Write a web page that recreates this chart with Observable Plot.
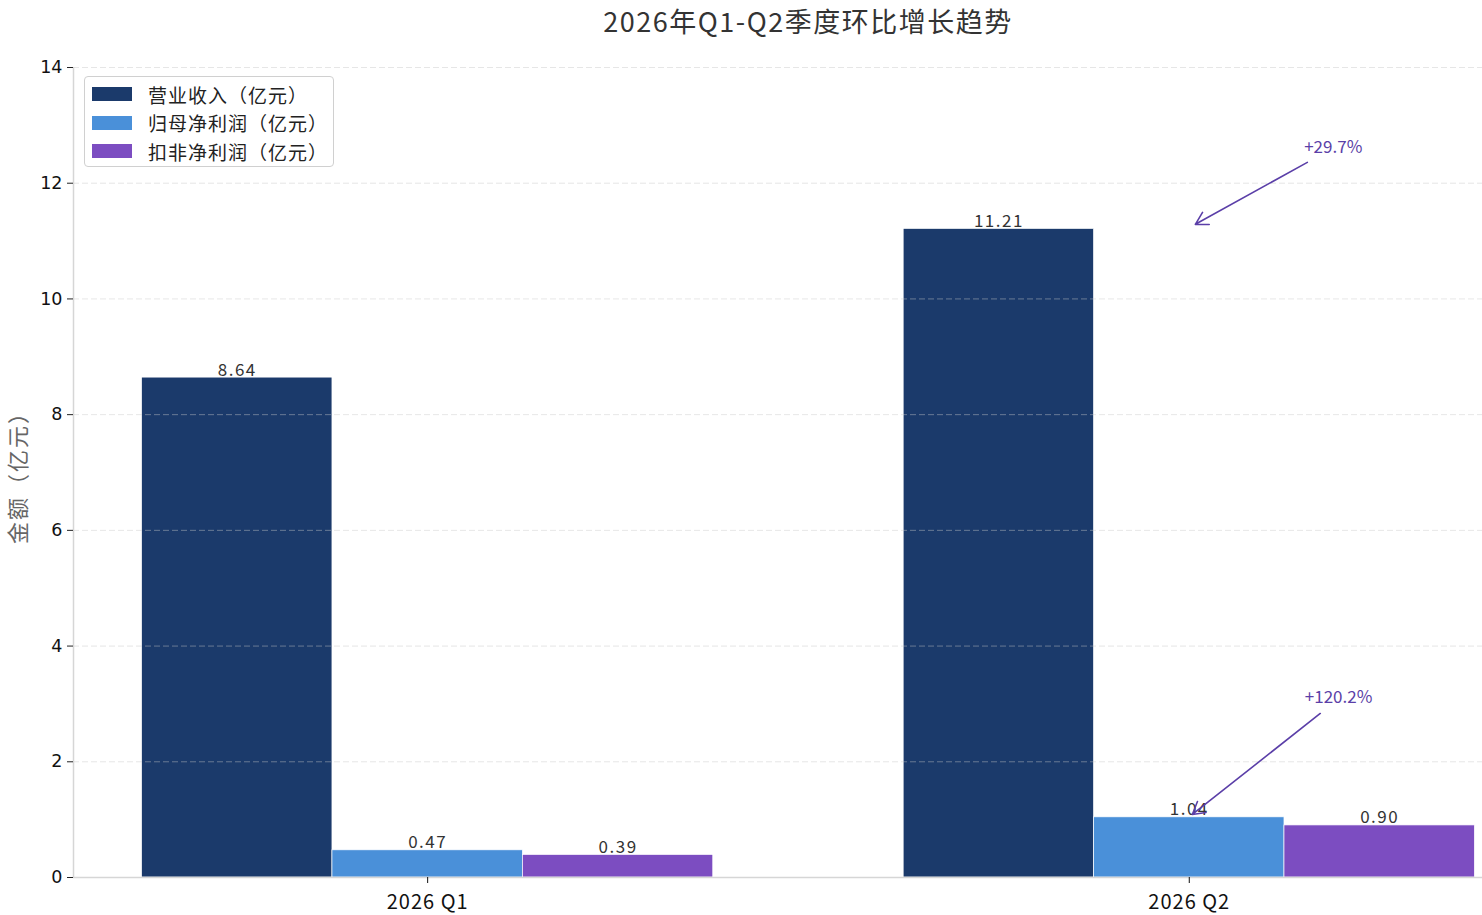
<!DOCTYPE html>
<html>
<head>
<meta charset="utf-8">
<script src="https://cdn.jsdelivr.net/npm/d3@7"></script>
<script src="https://cdn.jsdelivr.net/npm/@observablehq/plot@0.6"></script>
<style>
  body { margin: 0; background: #fff; }
  #wrap { position: relative; width: 1482px; height: 915px; overflow: hidden; font-family: "Noto Sans CJK SC", sans-serif; }
  #title { position: absolute; left: 808px; top: 1px; transform: translateX(-50%); font-size: 27px; letter-spacing: 1.5px; color: #333; white-space: nowrap; }
  #ylabel { position: absolute; left: 16px; top: 472px; transform: translate(-50%, -50%) rotate(-90deg); font-size: 22px; letter-spacing: 2px; color: #666; white-space: nowrap; line-height: 24px; }
  #chart { position: absolute; left: 0; top: 45px; }
  #legend { position: absolute; left: 84px; top: 76px; width: 248px; height: 89px; border: 1.5px solid #d0d0d0; border-radius: 4px; background: rgba(255,255,255,0.85); }
  .row { position: absolute; left: 7px; height: 20px; display: flex; align-items: center; font-size: 19px; letter-spacing: 1px; color: #222; white-space: nowrap; }
  .sw { width: 40px; height: 14px; margin-right: 16px; }
</style>
</head>
<body>
<div id="wrap">
  <div id="title"></div>
  <div id="chart"></div>
  <div id="ylabel"></div>
  <div id="legend"></div>
</div>
<script>
const title = "2026年Q1-Q2季度环比增长趋势";
const yLabel = "金额（亿元）";
const quarters = ["2026 Q1", "2026 Q2"];
const seriesNames = ["营业收入（亿元）", "归母净利润（亿元）", "扣非净利润（亿元）"];
const colors = ["#1b3a6b", "#4a90d9", "#7c4dc1"];
const revenue = [8.64, 11.21];
const netProfit = [0.47, 1.04];
const deductedProfit = [0.39, 0.90];
const yTicks = [0, 2, 4, 6, 8, 10, 12, 14];
const annText = ["+29.7%", "+120.2%"];
const annTextX = [1.189, 1.196];
const annTextY = [12.62, 3.11];
const annStartX = [1.155, 1.172];
const annStartY = [12.36, 2.835];
const annTipX = [1.008, 1.004];
const annTipY = [11.29, 1.09];
const barWidth = 0.25;
const xDomain = [-0.465, 1.385];

document.getElementById("title").textContent = title;
document.getElementById("ylabel").textContent = yLabel;

const seriesValues = [revenue, netProfit, deductedProfit];
const bars = [];
quarters.forEach((q, qi) => {
  seriesNames.forEach((s, si) => {
    const c = qi + (si - 1) * barWidth;
    bars.push({quarter: q, series: s, value: seriesValues[si][qi], x1: c - barWidth / 2, x2: c + barWidth / 2, xc: c});
  });
});
const anns = annText.map((t, i) => ({t, tx: annTextX[i], ty: annTextY[i], x1: annStartX[i], y1: annStartY[i], x2: annTipX[i], y2: annTipY[i]}));

const plot = Plot.plot({
  width: 1482,
  height: 870,
  marginTop: 22,
  marginBottom: 38,
  marginLeft: 73,
  marginRight: 0,
  style: {fontFamily: "Noto Sans CJK SC, sans-serif", background: "transparent", overflow: "visible"},
  x: {domain: xDomain},
  y: {domain: [0, 14]},
  color: {domain: seriesNames, range: colors},
  marks: [
    Plot.rectY(bars, {x1: "x1", x2: "x2", y1: 0, y2: "value", fill: "series", stroke: "white", strokeWidth: 0.7}),
    Plot.gridY(yTicks, {stroke: "#c8c8c8", strokeOpacity: 0.45, strokeDasharray: "6,3", strokeWidth: 1}),
    Plot.ruleY([0], {stroke: "#d6d6d6", strokeWidth: 1.5}),
    Plot.ruleX([xDomain[0]], {stroke: "#d6d6d6", strokeWidth: 1.5}),
    Plot.axisY({ticks: yTicks, tickSize: 6, tickPadding: 5, fontSize: 17.5, label: null, stroke: "#222", color: "#111"}),
    Plot.axisX({ticks: [0, 1], tickFormat: (d) => quarters[d], tickSize: 6, tickPadding: 11, fontSize: 20, label: null, color: "#111"}),
    Plot.text(bars, {x: "xc", y: "value", text: (d) => d.value.toFixed(2), lineAnchor: "bottom", dy: -2, fontSize: 17, fill: "#333"}),
    Plot.arrow(anns, {x1: "x1", y1: "y1", x2: "x2", y2: "y2", stroke: "#5b3fa8", strokeWidth: 1.6, headLength: 13}),
    Plot.text(anns, {x: "tx", y: "ty", text: "t", fontSize: 17, fill: "#5b3fa8"})
  ]
});
document.getElementById("chart").appendChild(plot);

// styling tweaks on rendered text
d3.select(plot).selectAll('g[aria-label="y-axis tick label"]').attr("font-family", "DejaVu Sans, sans-serif").style("font-family", "DejaVu Sans, sans-serif");
d3.select(plot).selectAll('g[aria-label="x-axis tick label"]').style("letter-spacing", "1px");
d3.select(plot).selectAll('g[aria-label="text"]').filter(function () { return d3.select(this).attr("fill") === "#333"; }).style("letter-spacing", "1.5px");

const legend = document.getElementById("legend");
seriesNames.forEach((s, i) => {
  const row = document.createElement("div");
  row.className = "row";
  row.style.top = (7 + i * 28.5) + "px";
  const sw = document.createElement("div");
  sw.className = "sw";
  sw.style.background = colors[i];
  row.appendChild(sw);
  const tx = document.createElement("span");
  tx.textContent = s;
  row.appendChild(tx);
  legend.appendChild(row);
});
</script>
</body>
</html>
